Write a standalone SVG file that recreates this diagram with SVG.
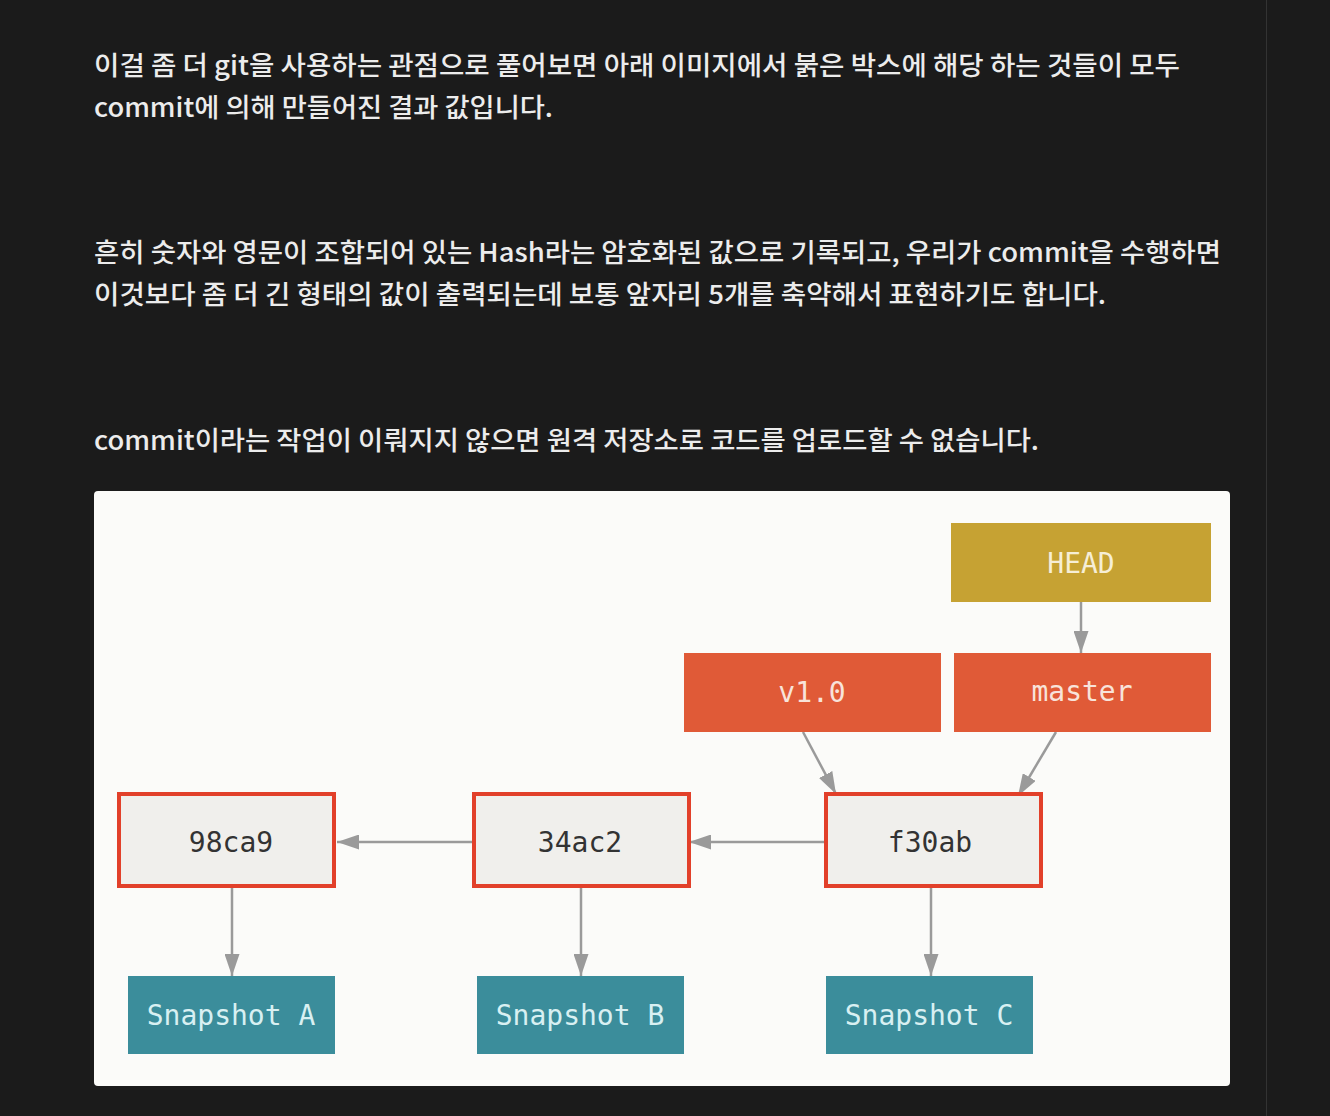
<svg xmlns="http://www.w3.org/2000/svg" width="1330" height="1116" viewBox="0 0 1330 1116">
<style>
.p{font-family:"Noto Sans CJK KR","Noto Sans",sans-serif;font-size:26px;font-weight:500;fill:#ececec}
.m{font-family:"DejaVu Sans Mono","Liberation Mono",monospace;font-size:28px;text-anchor:middle}
.commit{fill:#f0efec}
.hl{fill:none;stroke:#e2402a;stroke-width:4}
.ref{fill:#e05a37}
.snap{fill:#3b8d9b}
.edge{stroke:#9a9a9a;stroke-width:2.5;fill:none;marker-end:url(#ah)}
</style>
<defs>
<marker id="ah" viewBox="0 0 10 10" refX="10" refY="5" markerWidth="22" markerHeight="15" markerUnits="userSpaceOnUse" orient="auto" preserveAspectRatio="none">
<path d="M0,0 L10,5 L0,10 Z" fill="#9a9a9a"/>
</marker>
</defs>
<rect width="1330" height="1116" fill="#1b1b1b"/>
<line x1="1266.5" y1="0" x2="1266.5" y2="1116" stroke="#333" stroke-width="1"/>
<g id="text">
<text class="p" x="94" y="75" textLength="1086" lengthAdjust="spacingAndGlyphs">이걸 좀 더 git을 사용하는 관점으로 풀어보면 아래 이미지에서 붉은 박스에 해당 하는 것들이 모두</text>
<text class="p" x="94" y="117" textLength="459" lengthAdjust="spacingAndGlyphs">commit에 의해 만들어진 결과 값입니다.</text>
<text class="p" x="94" y="262" textLength="1127" lengthAdjust="spacingAndGlyphs">흔히 숫자와 영문이 조합되어 있는 Hash라는 암호화된 값으로 기록되고, 우리가 commit을 수행하면</text>
<text class="p" x="94" y="304" textLength="1012" lengthAdjust="spacingAndGlyphs">이것보다 좀 더 긴 형태의 값이 출력되는데 보통 앞자리 5개를 축약해서 표현하기도 합니다.</text>
<text class="p" x="94" y="450" textLength="945" lengthAdjust="spacingAndGlyphs">commit이라는 작업이 이뤄지지 않으면 원격 저장소로 코드를 업로드할 수 없습니다.</text>
</g>
<rect x="94" y="491" width="1136" height="595" rx="4" fill="#fbfbf9"/>
<g id="connectors">
<line class="edge" x1="1081" y1="602" x2="1081" y2="653"/>
<line class="edge" x1="803" y1="732" x2="836" y2="794"/>
<line class="edge" x1="1056" y1="732" x2="1018" y2="796"/>
<line class="edge" x1="472" y1="842" x2="337" y2="842"/>
<line class="edge" x1="824" y1="842" x2="689" y2="842"/>
<line class="edge" x1="232" y1="886" x2="232" y2="976"/>
<line class="edge" x1="581" y1="886" x2="581" y2="976"/>
<line class="edge" x1="931" y1="886" x2="931" y2="976"/>
</g>
<g id="HEAD">
<rect x="951" y="523" width="260" height="79" fill="#c6a233"/>
<text class="m" x="1081" y="573" fill="#f6eed6">HEAD</text>
</g>
<g id="v1.0">
<rect class="ref" x="684" y="653" width="257" height="79"/>
<text class="m" x="812" y="702" fill="#f8e3da">v1.0</text>
</g>
<g id="master">
<rect class="ref" x="954" y="653" width="257" height="79"/>
<text class="m" x="1082" y="701" fill="#f8e3da">master</text>
</g>
<g id="c98ca9">
<rect class="commit" x="120" y="795" width="213" height="90"/>
<rect class="hl" x="119" y="794" width="215" height="92"/>
<text class="m" x="231" y="852" fill="#333">98ca9</text>
</g>
<g id="c34ac2">
<rect class="commit" x="475" y="795" width="213" height="90"/>
<rect class="hl" x="474" y="794" width="215" height="92"/>
<text class="m" x="580" y="852" fill="#333">34ac2</text>
</g>
<g id="cf30ab">
<rect class="commit" x="827" y="795" width="213" height="90"/>
<rect class="hl" x="826" y="794" width="215" height="92"/>
<text class="m" x="930" y="852" fill="#333">f30ab</text>
</g>
<g id="snapA">
<rect class="snap" x="128" y="976" width="207" height="78"/>
<text class="m" x="231" y="1025" fill="#d8f0f2">Snapshot A</text>
</g>
<g id="snapB">
<rect class="snap" x="477" y="976" width="207" height="78"/>
<text class="m" x="580" y="1025" fill="#d8f0f2">Snapshot B</text>
</g>
<g id="snapC">
<rect class="snap" x="826" y="976" width="207" height="78"/>
<text class="m" x="929" y="1025" fill="#d8f0f2">Snapshot C</text>
</g>
</svg>
